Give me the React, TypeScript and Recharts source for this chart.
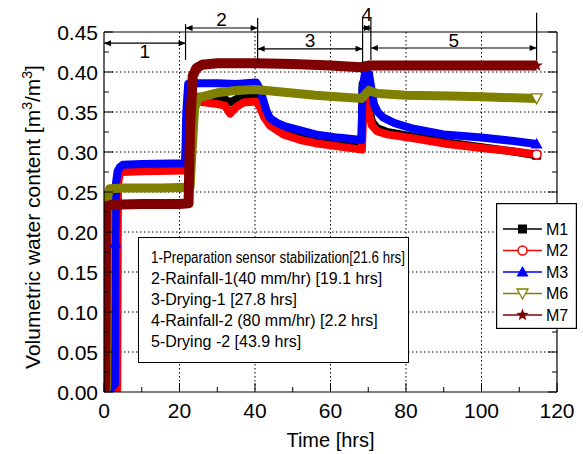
import React from 'react';
import { LineChart, Line, XAxis, YAxis, CartesianGrid, ReferenceLine } from 'recharts';

// axis ticks
const xTicks = [0, 10, 20, 30, 40, 50, 60, 70, 80, 90, 100, 110, 120];
const xLabels = [0, 20, 40, 60, 80, 100, 120];
const yTicks = [0, 0.025, 0.05, 0.075, 0.1, 0.125, 0.15, 0.175, 0.2, 0.225, 0.25, 0.275, 0.3, 0.325, 0.35, 0.375, 0.4, 0.425, 0.45];
const yLabels = [0, 0.05, 0.1, 0.15, 0.2, 0.25, 0.3, 0.35, 0.4, 0.45];
const gridX = [20, 40, 60, 80, 100];
const gridY = [0.05, 0.1, 0.15, 0.2, 0.25, 0.3, 0.35, 0.4];

// test phases [hrs]
const phaseNames = ['1', '2', '3', '4', '5'];
const phaseStart = [0, 21.6, 40.7, 68.5, 70.7];
const phaseEnd = [21.6, 40.7, 68.5, 70.7, 114.6];
const phaseNotes = [
  '1-Preparation sensor stabilization[21.6 hrs]',
  '2-Rainfall-1(40 mm/hr) [19.1 hrs]',
  '3-Drying-1 [27.8 hrs]',
  '4-Rainfall-2 (80 mm/hr) [2.2 hrs]',
  '5-Drying -2 [43.9 hrs]',
];

// sensor readings, volumetric water content [m3/m3]
const m1Hours = [0, 3.2, 3.5, 4.0, 5, 10, 21.6, 21.9, 22.5, 25, 30, 32, 33.4, 35, 37, 40.3, 41.2, 42.5, 44, 47.5, 52, 56, 62, 68.2, 68.5, 69.3, 70.2, 71, 72.3, 75, 82, 91, 100, 108, 114.6];
const m1Vwc = [0, 0.002, 0.27, 0.278, 0.28, 0.28, 0.281, 0.34, 0.368, 0.369, 0.368, 0.366, 0.362, 0.366, 0.368, 0.368, 0.362, 0.348, 0.337, 0.325, 0.318, 0.313, 0.309, 0.305, 0.385, 0.38, 0.355, 0.338, 0.33, 0.325, 0.319, 0.312, 0.306, 0.301, 0.296];

const m2Hours = [0, 3.5, 3.7, 4.2, 5, 10, 21.6, 22.0, 22.6, 25, 30, 32, 33.4, 35, 37, 40.3, 41.2, 42.5, 44, 47.5, 52, 56, 62, 68.3, 68.7, 69.5, 70.3, 71, 72.3, 75, 82, 91, 100, 108, 114.6];
const m2Vwc = [0, 0.002, 0.26, 0.273, 0.275, 0.276, 0.277, 0.33, 0.36, 0.363, 0.36, 0.358, 0.348, 0.356, 0.362, 0.363, 0.357, 0.343, 0.333, 0.322, 0.315, 0.311, 0.307, 0.303, 0.35, 0.365, 0.345, 0.333, 0.326, 0.322, 0.317, 0.31, 0.305, 0.301, 0.297];

const m3Hours = [0, 2.0, 2.9, 3.0, 3.2, 3.6, 4.2, 5, 10, 21.5, 21.8, 22.3, 25, 30, 35, 40.3, 41.2, 42.2, 43, 44, 46, 48, 52, 56, 62, 68.2, 68.5, 69.2, 70.2, 70.8, 71.5, 72.5, 74, 77, 82, 90, 100, 108, 114.6];
const m3Vwc = [0, 0.005, 0.01, 0.186, 0.262, 0.276, 0.281, 0.284, 0.285, 0.286, 0.35, 0.385, 0.386, 0.386, 0.385, 0.387, 0.38, 0.365, 0.352, 0.342, 0.336, 0.332, 0.327, 0.322, 0.318, 0.315, 0.38, 0.4, 0.398, 0.38, 0.36, 0.35, 0.343, 0.336, 0.329, 0.322, 0.318, 0.314, 0.31];

const m6Hours = [0, 0.7, 1.0, 1.5, 5, 15, 22.8, 23.3, 24, 25, 30, 35, 40, 45, 56, 68.3, 69.2, 70.2, 72.5, 80, 92, 100, 114.6];
const m6Vwc = [0, 0.005, 0.245, 0.254, 0.255, 0.255, 0.256, 0.3, 0.355, 0.368, 0.374, 0.377, 0.378, 0.376, 0.371, 0.367, 0.372, 0.377, 0.373, 0.371, 0.37, 0.369, 0.367];

const m7Hours = [0, 0.3, 0.6, 2, 10, 20, 22.4, 22.8, 23.5, 24.5, 26, 30, 35, 40, 50, 60, 68, 70, 75, 90, 100, 114.6];
const m7Vwc = [0, 0.005, 0.232, 0.234, 0.235, 0.235, 0.236, 0.33, 0.395, 0.405, 0.409, 0.411, 0.411, 0.411, 0.41, 0.408, 0.406, 0.408, 0.408, 0.408, 0.408, 0.408];

const toPoints = (hours: number[], vwc: number[]) => hours.map((t, i) => ({ t, v: vwc[i] }));

const series = [
  { name: 'M1', data: toPoints(m1Hours, m1Vwc), color: '#000000', marker: 'square', width: 8, marks: [m1Hours.length - 1] },
  { name: 'M2', data: toPoints(m2Hours, m2Vwc), color: '#ff0000', marker: 'circle', width: 8, marks: [m2Hours.length - 1] },
  { name: 'M3', data: toPoints(m3Hours, m3Vwc), color: '#0000ff', marker: 'triangle', width: 8, marks: [3, m3Hours.length - 1] },
  { name: 'M6', data: toPoints(m6Hours, m6Vwc), color: '#808000', marker: 'down', width: 9, marks: [m6Hours.length - 1] },
  { name: 'M7', data: toPoints(m7Hours, m7Vwc), color: '#800000', marker: 'star', width: 10, marks: [m7Hours.length - 1] },
];

// annotation layout above the frame
const arrowLevel = [0.436, 0.455, 0.429, 0.455, 0.43];
const labelShift = [8, -9, -9, -14, -8];
const barTop = [0.46, 0.4675, 0.4675, 0.4675, 0.474];
const barBottom = [0.415, 0.411, 0.411, 0.415, 0.415];

const FONT = "'Liberation Sans', Arial, sans-serif";

const isOn = (v: number, list: number[]) => list.some((l) => Math.abs(l - v) < 1e-6);

const Marker = ({ kind, cx, cy, color, s = 1 }: any) => {
  if (kind === 'square') return <rect x={cx - 4.5 * s} y={cy - 4.5 * s} width={9 * s} height={9 * s} fill={color} />;
  if (kind === 'circle') return <circle cx={cx} cy={cy} r={4.5 * s} fill="#fff" stroke={color} strokeWidth={1.5} />;
  if (kind === 'triangle')
    return <polygon points={`${cx},${cy - 6 * s} ${cx + 6 * s},${cy + 4.5 * s} ${cx - 6 * s},${cy + 4.5 * s}`} fill={color} />;
  if (kind === 'down')
    return <polygon points={`${cx - 5.5 * s},${cy - 4.5 * s} ${cx + 5.5 * s},${cy - 4.5 * s} ${cx},${cy + 5.5 * s}`} fill="#fff" stroke={color} strokeWidth={1.3} />;
  const pts = [];
  for (let k = 0; k < 10; k++) {
    const r = (k % 2 === 0 ? 6.5 : 2.7) * s;
    const a = -Math.PI / 2 + (k * Math.PI) / 5;
    pts.push(`${cx + r * Math.cos(a)},${cy + r * Math.sin(a)}`);
  }
  return <polygon points={pts.join(' ')} fill={color} />;
};

const LeftTick = ({ x, y, payload }: any) => {
  const major = isOn(payload.value, yLabels);
  return (
    <g>
      <line x1={x + 6} x2={x + 6 + (major ? 9 : 5)} y1={y} y2={y} stroke="#000" />
      {major && (
        <text x={x} y={y} dy="0.36em" textAnchor="end" fontSize={21} fill="#000" fontFamily={FONT}>
          {payload.value.toFixed(2)}
        </text>
      )}
    </g>
  );
};

const RightTick = ({ x, y, payload }: any) => {
  const major = isOn(payload.value, yLabels);
  return <line x1={x - 6} x2={x - 6 - (major ? 9 : 5)} y1={y} y2={y} stroke="#000" />;
};

const BottomTick = ({ x, y, payload }: any) => {
  const major = isOn(payload.value, xLabels);
  return (
    <g>
      <line x1={x} x2={x} y1={y - 11} y2={y - 11 - (major ? 9 : 5)} stroke="#000" />
      {major && (
        <text x={x} y={y} dy="0.72em" textAnchor="middle" fontSize={21} fill="#000" fontFamily={FONT}>
          {payload.value}
        </text>
      )}
    </g>
  );
};

const TopTick = ({ x, y, payload }: any) => {
  const major = isOn(payload.value, xLabels);
  return <line x1={x} x2={x} y1={y + 6} y2={y + 6 + (major ? 9 : 5)} stroke="#000" />;
};

const PhaseArrow = ({ x1, y1, x2, text, shift }: any) => {
  const h = 7;
  const w = 3;
  return (
    <g>
      <line x1={x1} y1={y1} x2={x2} y2={y1} stroke="#000" strokeWidth={1.2} />
      <polygon points={`${x1},${y1} ${x1 + h},${y1 - w} ${x1 + h},${y1 + w}`} fill="#000" />
      <polygon points={`${x2},${y1} ${x2 - h},${y1 - w} ${x2 - h},${y1 + w}`} fill="#000" />
      <text x={(x1 + x2) / 2} y={y1 + shift} dy="0.36em" textAnchor="middle" fontSize={19} fill="#000" fontFamily={FONT}>
        {text}
      </text>
    </g>
  );
};

const YTitle = () => (
  <text x={40} y={217} transform="rotate(-90 40 217)" textAnchor="middle" fontSize={21} fill="#000" fontFamily={FONT}>
    Volumetric water content [m<tspan dy={-8} fontSize={14}>3</tspan>
    <tspan dy={8}>/m</tspan>
    <tspan dy={-8} fontSize={14}>3</tspan>
    <tspan dy={8}>]</tspan>
  </text>
);

const App: React.FC = () => {
  return (
    <div style={{ position: 'absolute', left: 0, top: 0, width: 583, height: 454, background: '#fff', fontFamily: FONT }}>
      <LineChart width={583} height={454} margin={{ top: 0, right: 0, bottom: 0, left: 0 }}>
        <CartesianGrid horizontal vertical horizontalValues={gridY} verticalValues={gridX} stroke="#000" strokeDasharray="1.5 2.5" />
        <XAxis
          type="number"
          dataKey="t"
          domain={[0, 120]}
          allowDataOverflow
          ticks={xTicks}
          interval={0}
          height={62}
          tickSize={0}
          tickMargin={11}
          tickLine={false}
          axisLine={{ stroke: '#000', strokeWidth: 1.2 }}
          tick={(p: any) => <BottomTick {...p} />}
          label={{ value: 'Time [hrs]', position: 'insideBottom', offset: 7, fontSize: 20, fill: '#000', fontFamily: FONT }}
        />
        <XAxis
          xAxisId="top"
          orientation="top"
          type="number"
          domain={[0, 120]}
          allowDataOverflow
          ticks={xTicks}
          interval={0}
          height={32}
          tickSize={0}
          tickMargin={6}
          tickLine={false}
          axisLine={{ stroke: '#000', strokeWidth: 1.2 }}
          tick={(p: any) => <TopTick {...p} />}
        />
        <YAxis
          type="number"
          domain={[0, 0.45]}
          allowDataOverflow
          ticks={yTicks}
          interval={0}
          width={104}
          tickSize={0}
          tickMargin={6}
          tickLine={false}
          axisLine={{ stroke: '#000', strokeWidth: 1.2 }}
          tick={(p: any) => <LeftTick {...p} />}
          label={{ content: () => <YTitle /> }}
        />
        <YAxis
          yAxisId="right"
          orientation="right"
          type="number"
          domain={[0, 0.45]}
          allowDataOverflow
          ticks={yTicks}
          interval={0}
          width={26}
          tickSize={0}
          tickMargin={6}
          tickLine={false}
          axisLine={{ stroke: '#000', strokeWidth: 1.2 }}
          tick={(p: any) => <RightTick {...p} />}
        />
        {series.map((s) => (
          <Line
            key={s.name}
            data={s.data}
            dataKey="v"
            name={s.name}
            type="linear"
            stroke={s.color}
            strokeWidth={s.width}
            strokeLinejoin="round"
            isAnimationActive={false}
            dot={(p: any) =>
              s.marks.includes(p.index) ? (
                <Marker key={p.index} kind={s.marker} cx={p.cx} cy={p.cy} color={s.color} />
              ) : (
                <g key={p.index} />
              )
            }
            activeDot={false}
          />
        ))}
        {phaseNames.map((n, i) => (
          <ReferenceLine
            key={'arrow' + n}
            ifOverflow="visible"
            segment={[
              { x: phaseStart[i], y: arrowLevel[i] },
              { x: phaseEnd[i], y: arrowLevel[i] },
            ]}
            shape={(p: any) => <PhaseArrow {...p} text={n} shift={labelShift[i]} />}
          />
        ))}
        {phaseEnd.map((t, i) => (
          <ReferenceLine
            key={'bar' + i}
            ifOverflow="visible"
            stroke="#000"
            strokeWidth={1.2}
            segment={[
              { x: t, y: barBottom[i] },
              { x: t, y: barTop[i] },
            ]}
          />
        ))}
      </LineChart>

      <div
        style={{
          position: 'absolute',
          left: 138,
          top: 237,
          width: 271,
          height: 126,
          boxSizing: 'border-box',
          border: '1.2px solid #000',
          background: '#fff',
          padding: '9px 0 0 12px',
          fontSize: 16,
          lineHeight: '21px',
          whiteSpace: 'nowrap',
          color: '#000',
        }}
      >
        {phaseNotes.map((note, i) => (
          <div key={note}>
            <span
              style={{
                display: 'inline-block',
                transform: i === 0 ? 'scaleX(0.835)' : undefined,
                transformOrigin: 'left center',
              }}
            >
              {note}
            </span>
          </div>
        ))}
      </div>

      <svg style={{ position: 'absolute', left: 496, top: 203 }} width={81} height={126}>
        <rect x={0.6} y={0.6} width={79.8} height={124.8} fill="#fff" stroke="#000" strokeWidth={1.2} />
        {series.map((s, i) => {
          const cy = 26 + i * 21.5;
          return (
            <g key={s.name}>
              <line x1={7} x2={46} y1={cy} y2={cy} stroke={s.color} strokeWidth={1.5} />
              <Marker kind={s.marker} cx={26.5} cy={cy} color={s.color} />
              <text x={50} y={cy} dy="0.36em" fontSize={16} fill="#000" fontFamily={FONT}>
                {s.name}
              </text>
            </g>
          );
        })}
      </svg>
    </div>
  );
};

export default App;
